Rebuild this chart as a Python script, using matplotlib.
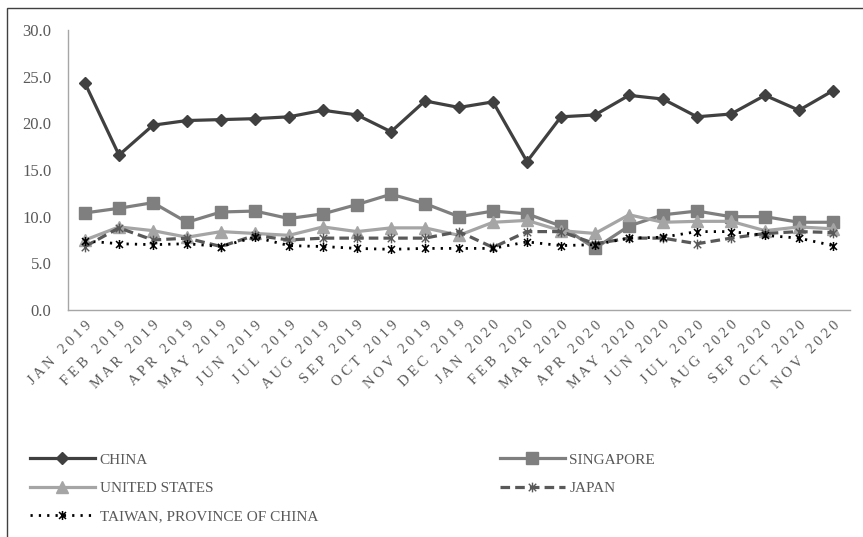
import numpy as np
import matplotlib
matplotlib.use('Agg')
import matplotlib.pyplot as plt
from matplotlib.path import Path
from matplotlib.patches import Rectangle

# months on the category axis
months = ['JAN 2019', 'FEB 2019', 'MAR 2019', 'APR 2019', 'MAY 2019', 'JUN 2019',
          'JUL 2019', 'AUG 2019', 'SEP 2019', 'OCT 2019', 'NOV 2019', 'DEC 2019',
          'JAN 2020', 'FEB 2020', 'MAR 2020', 'APR 2020', 'MAY 2020', 'JUN 2020',
          'JUL 2020', 'AUG 2020', 'SEP 2020', 'OCT 2020', 'NOV 2020']

china = [24.3, 16.6, 19.8, 20.3, 20.4, 20.5, 20.7, 21.4, 20.9, 19.1, 22.4, 21.7,
         22.3, 15.9, 20.7, 20.9, 23.0, 22.6, 20.7, 21.0, 23.0, 21.4, 23.5]
singapore = [10.4, 10.9, 11.5, 9.4, 10.5, 10.6, 9.8, 10.3, 11.3, 12.4, 11.4, 10.0,
             10.6, 10.3, 9.0, 6.6, 9.0, 10.2, 10.6, 10.0, 10.0, 9.4, 9.4]
united_states = [7.5, 8.9, 8.5, 7.8, 8.4, 8.2, 8.0, 8.9, 8.4, 8.8, 8.8, 8.0,
                 9.4, 9.6, 8.5, 8.2, 10.2, 9.4, 9.5, 9.5, 8.5, 8.9, 8.7]
japan = [6.8, 8.8, 7.5, 7.7, 6.8, 8.0, 7.5, 7.7, 7.7, 7.7, 7.7, 8.4,
         6.7, 8.4, 8.4, 7.1, 7.7, 7.7, 7.1, 7.7, 8.2, 8.4, 8.3]
taiwan = [7.4, 7.1, 7.0, 7.1, 6.8, 7.8, 6.9, 6.8, 6.6, 6.5, 6.6, 6.6,
          6.6, 7.3, 6.9, 7.0, 7.7, 7.8, 8.4, 8.4, 8.0, 7.7, 6.9]

TXT = '#595959'
plt.rcParams['font.family'] = ['Liberation Serif', 'DejaVu Serif']

# excel style "star" marker: an x with a vertical bar through it
star = Path([(-1, -1), (1, 1), (-1, 1), (1, -1), (0, -1.3), (0, 1.3)],
            [Path.MOVETO, Path.LINETO, Path.MOVETO, Path.LINETO, Path.MOVETO, Path.LINETO])


def spaced(label):
    # excel renders the rotated labels with wide letter spacing
    words = label.split(' ')
    return '   '.join(' '.join(w) for w in words)


fig = plt.figure(figsize=(8.63, 5.37), dpi=100)
ax = fig.add_axes([68 / 863, 1 - 310 / 537, (850 - 68) / 863, (310 - 30) / 537])

x = np.arange(len(months))
h_cn, = ax.plot(x, china, color='#404040', lw=2.3, marker='D', ms=6.5, label='CHINA')
h_sg, = ax.plot(x, singapore, color='#7f7f7f', lw=2.3, marker='s', ms=8.5, label='SINGAPORE')
h_us, = ax.plot(x, united_states, color='#a5a5a5', lw=2.3, marker='^', ms=8.5,
                label='UNITED STATES')
h_jp, = ax.plot(x, japan, color='#595959', lw=2.3, ls=(0, (3, 1.6)), marker=star, ms=7,
                mew=1.0, mec='#595959', label='JAPAN')
h_tw, = ax.plot(x, taiwan, color='black', lw=2.0, ls=(0, (0.8, 2.2)), marker=star, ms=6.5,
                mew=1.1, mec='black', label='TAIWAN, PROVINCE OF CHINA')

ax.set_xlim(-0.5, len(months) - 0.5)
ax.set_ylim(0, 30)
ax.set_yticks(np.arange(0, 31, 5))
ax.set_yticklabels(['%.1f' % v for v in np.arange(0, 31, 5)])
ax.set_xticks(x)
ax.set_xticklabels([spaced(m) for m in months], rotation=45, ha='right', va='top',
                   rotation_mode='anchor', fontsize=10.5, color=TXT)
ax.tick_params(axis='y', length=0, pad=12, labelsize=12, labelcolor=TXT)
ax.tick_params(axis='x', length=0, pad=6)

for side in ['top', 'right']:
    ax.spines[side].set_visible(False)
for side in ['left', 'bottom']:
    ax.spines[side].set_color('#a6a6a6')
    ax.spines[side].set_linewidth(1.0)

# legend, filled row by row like excel
handles = [h_cn, h_us, h_tw, h_sg, h_jp]
fig.legend(handles, [h.get_label() for h in handles], loc='upper left',
           bbox_to_anchor=(30 / 863, 1 - 453 / 537), ncol=2, frameon=False,
           fontsize=11, labelcolor=TXT, handlelength=4.25, handletextpad=0.3,
           columnspacing=11.9, labelspacing=0.95, borderpad=0, borderaxespad=0)

# chart area border (only left and top edges are inside the picture)
fig.add_artist(Rectangle((7 / 863, -0.1), 2, 1.1 - 8 / 537, transform=fig.transFigure,
                         fill=False, edgecolor='#404040', lw=1.0))

fig.savefig('out.png', dpi=100)
